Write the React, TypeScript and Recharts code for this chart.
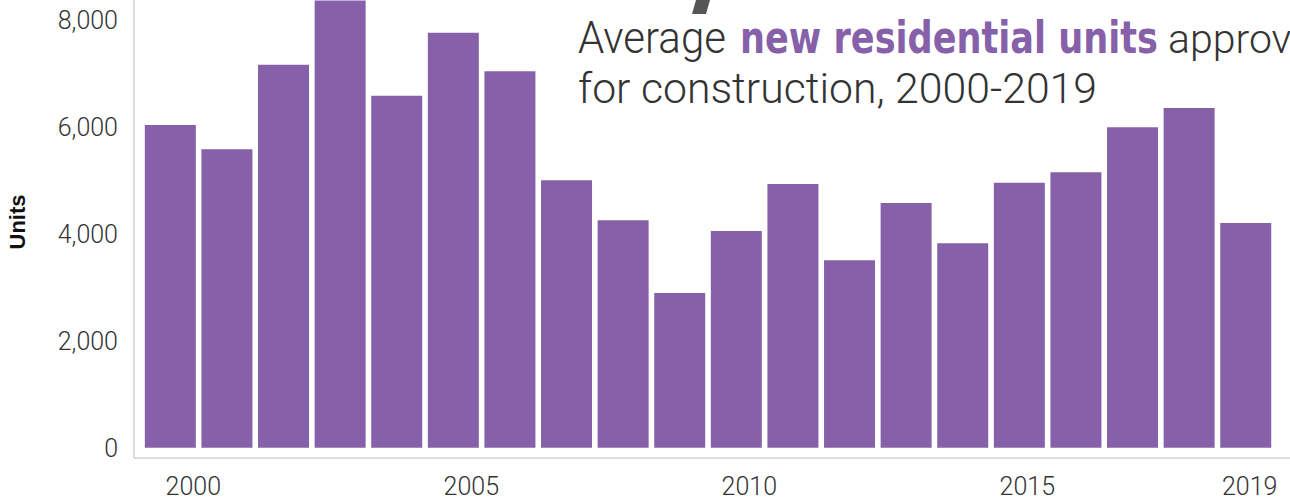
import { Bar, BarChart, XAxis, YAxis } from 'recharts';

const years = [
  '2000', '2001', '2002', '2003', '2004', '2005', '2006', '2007', '2008', '2009',
  '2010', '2011', '2012', '2013', '2014', '2015', '2016', '2017', '2018', '2019',
];
const units = [
  6040, 5590, 7170, 8370, 6590, 7770, 7050, 5010, 4260, 2900,
  4060, 4940, 3510, 4580, 3830, 4960, 5160, 6000, 6360, 4210,
];
const yTicks = [0, 2000, 4000, 6000, 8000];
const labelYears = ['2000', '2005', '2010', '2015', '2019'];

const data = years.map((year, i) => ({ year, units: units[i] }));

const PURPLE = '#8660a8';
const TEXT = '#333333';
const FONT = 'Roboto, "Liberation Sans", sans-serif';

const YearTick = ({ x, y, payload }: any) => {
  if (!labelYears.includes(payload.value)) return null;
  // labels sit slightly right of the bar centres in the original
  const dx = 23 - (Number(payload.value) - 2000);
  return (
    <text x={x + dx} y={y} dy="0.71em" textAnchor="middle" fontSize={25} fontWeight={300} fontFamily={FONT} fill={TEXT}>
      {payload.value}
    </text>
  );
};

export default function App() {
  return (
    <div style={{ position: 'absolute', left: 0, top: 0, width: 1290, height: 498, overflow: 'hidden', background: '#fff' }}>
      <div style={{ position: 'absolute', left: 0, top: -1.4 }}>
        <BarChart width={1290} height={500} data={data} margin={{ top: 0, right: 0, bottom: 0, left: 0 }} barCategoryGap="5%">
          <XAxis
            dataKey="year"
            interval={0}
            tick={<YearTick />}
            tickLine={false}
            tickSize={0}
            tickMargin={19}
            height={41}
            padding={{ left: 8, right: 16 }}
            axisLine={{ stroke: '#bbbbbb' }}
          />
          <YAxis
            width={134}
            domain={[-190, 8400]}
            ticks={yTicks}
            tickFormatter={(v: number) => v.toLocaleString('en-US')}
            tickLine={false}
            tickSize={0}
            tickMargin={16}
            axisLine={{ stroke: '#bbbbbb' }}
            tick={{ fontSize: 25, fontWeight: 300, fontFamily: FONT, fill: TEXT }}
          />
          <Bar dataKey="units" fill={PURPLE} isAnimationActive={false} />
        </BarChart>
      </div>
      <svg width={1290} height={498} style={{ position: 'absolute', left: 0, top: 0, pointerEvents: 'none' }}>
        <polygon points="696,0 710,0 706,14 692,14" fill="#555555" />
        <text x={578} y={53} fontSize={44} fontWeight={300} fontFamily={FONT} fill={TEXT} textLength={148} lengthAdjust="spacingAndGlyphs">
          Average
        </text>
        <text x={740} y={53} fontSize={44} fontWeight="bold" fontFamily='"DejaVu Sans Condensed", "DejaVu Sans", sans-serif' fill={PURPLE} textLength={418} lengthAdjust="spacingAndGlyphs">
          new residential units
        </text>
        <text x={1168} y={53} fontSize={41} fontWeight={300} fontFamily={FONT} fill={TEXT}>
          approved
        </text>
        <text x={578} y={103} fontSize={42} fontWeight={300} fontFamily={FONT} fill={TEXT} textLength={519} lengthAdjust="spacingAndGlyphs">
          for construction, 2000-2019
        </text>
        <text x={25} y={222} transform="rotate(-90 25 222)" textAnchor="middle" fontSize={22} fontWeight="bold" fontFamily='"Liberation Sans", Arial, sans-serif' fill="#111111">
          Units
        </text>
      </svg>
    </div>
  );
}
